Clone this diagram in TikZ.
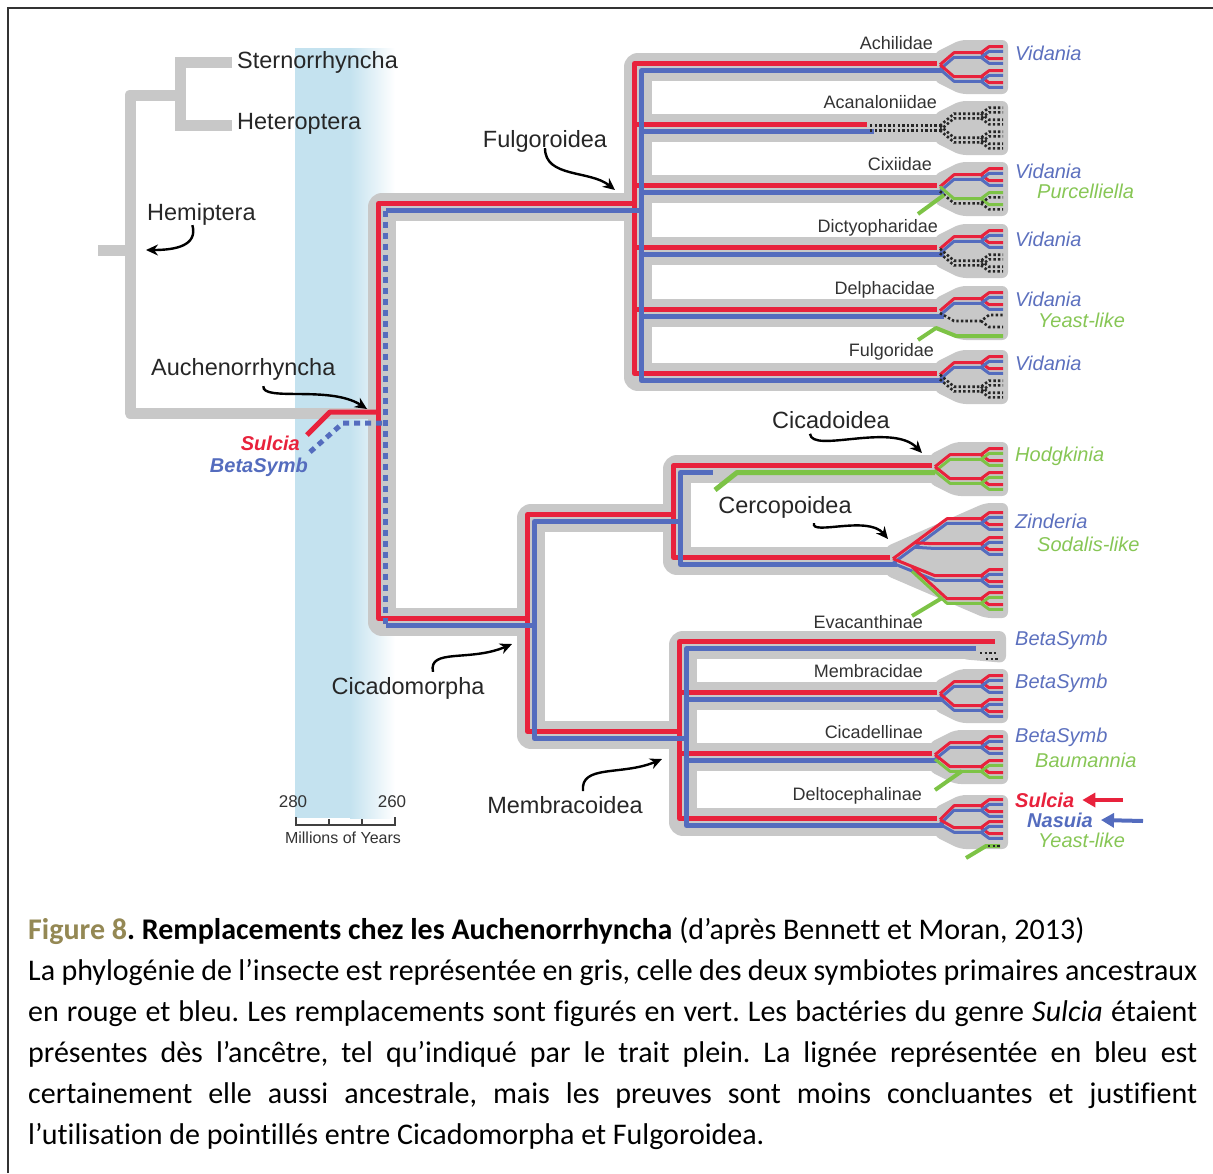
\documentclass[tikz,border=0pt]{standalone}
\usepackage{fontspec}
\setmainfont{Carlito}[Ligatures=NoCommon]
\setsansfont{Liberation Sans}
\usetikzlibrary{arrows.meta}
\frenchspacing

\definecolor{insect}{RGB}{200,200,200}
\definecolor{sred}{RGB}{232,34,60}
\definecolor{sblue}{RGB}{84,108,190}
\definecolor{sgreen}{RGB}{125,195,70}
\definecolor{tblue}{RGB}{92,112,190}
\definecolor{tgreen}{RGB}{135,198,85}
\definecolor{skyband}{RGB}{196,226,239}
\definecolor{figolive}{RGB}{148,136,84}

% grey fan at the end of a family band
\newcommand{\fan}[2]{\fill[insect, rounded corners=6pt] ({#1-6},{#2-14}) -- ({#1+20},{#2-27}) -- (1008,{#2-27}) -- (1008,{#2+27}) -- ({#1+20},{#2+27}) -- ({#1-6},{#2+14}) -- cycle;}
% one branch of a fan, ending in two tips
\newcommand{\fork}[5]{\draw[#1] (#2,#3) -- (#4,#5) -- (981,#5) -- (989,{#5-6}) -- (1003,{#5-6}) (981,#5) -- (989,{#5+6}) -- (1003,{#5+6});}
\newcommand{\pairfork}[6]{\fork{#1,yshift=2.3pt}{#3}{#4}{#5}{#6}\fork{#2,yshift=-2.3pt}{#3}{#4}{#5}{#6}}

\begin{document}
\begin{tikzpicture}[
        x=1pt, y=-1pt,
        band/.style={draw=insect, line width=28pt, line join=round},
        twig/.style={draw=insect, line width=11pt},
        rl/.style={draw=sred, line width=5pt, line join=round},
        bl/.style={draw=sblue, line width=5pt, line join=round},
        rf/.style={draw=sred, line width=3pt, line join=round},
        bf/.style={draw=sblue, line width=3pt, line join=round},
        gf/.style={draw=sgreen, line width=3pt, line join=round},
        df/.style={draw=black!85, line width=2.6pt, dash pattern=on 2.4pt off 2.2pt},
        gin/.style={draw=sgreen, line width=4pt, line join=round},
        lab/.style={font=\sffamily\fontsize{23.5}{26}\selectfont, text=black!85, inner sep=0pt},
        fam/.style={font=\sffamily\fontsize{18}{20}\selectfont, text=black!80, anchor=east, inner sep=0pt},
        sym/.style={font=\sffamily\itshape\fontsize{20}{22}\selectfont, anchor=west, inner sep=0pt},
        bsym/.style={sym, font=\sffamily\bfseries\itshape\fontsize{20}{22}\selectfont},
        swoop/.style={-{Stealth[length=12pt,width=11pt]}, line width=2.4pt, black}
    ]
    \useasboundingbox (0,0) rectangle (1213,1173);
    \draw[line width=2pt, black!80] (8,1173) -- (8,8) -- (1213,8);

    % time band
    \fill[skyband] (295,48) rectangle (350,818);
    \shade[left color=skyband, right color=white] (350,48) rectangle (395,818);

    % Hemiptera
    \draw[twig] (98,250) -- (130,250);
    \draw[twig, line join=round] (180,95) -- (130,95) -- (130,413) -- (380,413);
    \draw[twig] (232,62) -- (180,62) -- (180,125) -- (232,125);

    % insect bands
    \draw[band] (638,207) -- (382,207) -- (382,622) -- (531,622);
    \draw[band] (945,67) -- (638,67) -- (638,377) -- (945,377);
    \foreach \y in {128,189,251,313} \draw[band] (638,\y) -- (945,\y);
    \draw[band] (677,518) -- (531,518) -- (531,735) -- (683,735);
    \draw[band] (940,469) -- (677,469) -- (677,561) -- (895,561);
    \draw[band] (975,645) -- (683,645) -- (683,822) -- (945,822);
    \foreach \y in {696,757} \draw[band] (683,\y) -- (945,\y);

    \foreach \y in {67,128,189,251,313,377} \fan{940}{\y};
    \fan{935}{469}
    \fan{940}{696}
    \fan{935}{757}
    \fan{940}{822}
    \fill[insect, rounded corners=6pt] (885,547) -- (985,503) -- (1008,503) -- (1008,618) -- (985,618) -- (885,575) -- cycle;
    \fill[insect, rounded corners=7pt] (960,631) -- (1006,631) -- (1006,663) -- (960,659) -- cycle;

    % Sulcia
    \begin{scope}[shift={(-3.5,-3.5)}]
        \draw[rl] (638,207) -- (382,207) -- (382,622) -- (531,622);
        \draw[rl] (940,67) -- (638,67) -- (638,377) -- (940,377);
        \draw[rl] (638,128) -- (870,128);
        \foreach \y in {189,251,313} \draw[rl] (638,\y) -- (940,\y);
        \draw[rl] (677,518) -- (531,518) -- (531,735) -- (683,735);
        \draw[rl] (935,469) -- (677,469) -- (677,561) -- (893,561);
        \draw[rl] (998,645) -- (683,645) -- (683,822) -- (940,822);
        \draw[rl] (683,696) -- (940,696);
        \draw[rl] (683,757) -- (935,757);
    \end{scope}
    \draw[rl] (307,435) -- (330,412) -- (380,412);

    % BetaSymb
    \begin{scope}[shift={(3.5,3.5)}]
        \draw[bl] (638,207) -- (382,207);
        \draw[bl, dash pattern=on 6pt off 5pt] (382,207) -- (382,622);
        \draw[bl] (382,622) -- (531,622);
        \draw[bl] (940,67) -- (638,67) -- (638,377) -- (940,377);
        \draw[bl] (638,128) -- (870,128);
        \foreach \y in {189,251,313} \draw[bl] (638,\y) -- (940,\y);
        \draw[bl] (677,518) -- (531,518) -- (531,735) -- (683,735);
        \draw[bl] (709,469) -- (677,469) -- (677,561) -- (893,561);
        \draw[bl] (972,645) -- (683,645) -- (683,822) -- (940,822);
        \draw[bl] (683,696) -- (940,696);
        \draw[bl] (683,757) -- (935,757);
    \end{scope}
    \draw[bl, dash pattern=on 6pt off 5pt] (310,452) -- (343,423) -- (386,423);
    \draw[gin, line width=5pt] (715,490) -- (737,472.5) -- (935,472.5);

    % tips, Fulgoroidea
    \pairfork{rf}{bf}{940}{67}{954}{55}
    \pairfork{rf}{bf}{940}{67}{954}{79}
    \draw[df, yshift=2.3pt] (870,128) -- (940,128);
    \draw[df, yshift=-2.3pt] (870,128) -- (940,128);
    \pairfork{df}{df}{940}{128}{954}{116}
    \pairfork{df}{df}{940}{128}{954}{140}
    \pairfork{rf}{bf}{940}{189}{954}{177}
    \pairfork{gf}{df}{940}{189}{954}{201}
    \draw[gin] (918,214) -- (944,195);
    \pairfork{rf}{bf}{940}{251}{954}{239}
    \pairfork{df}{df}{940}{251}{954}{263}
    \pairfork{rf}{bf}{940}{313}{954}{301}
    \fork{df}{940}{313}{954}{321}
    \draw[gin] (918,340) -- (936,328) -- (956,336) -- (1003,336);
    \pairfork{rf}{bf}{940}{377}{954}{365}
    \pairfork{df}{df}{940}{377}{954}{389}

    % tips, Cicadomorpha
    \pairfork{rf}{gf}{935}{469}{950}{457}
    \pairfork{rf}{gf}{935}{469}{950}{481}
    \pairfork{rf}{bf}{893}{561}{947}{521}
    \pairfork{rf}{bf}{915}{545}{932}{546}
    \pairfork{rf}{bf}{893}{561}{935}{578}
    \pairfork{rf}{gf}{912}{569}{947}{601}
    \draw[gin] (912,616) -- (942,598);
    \draw[df] (980,653) -- (998,653);
    \draw[df] (986,659) -- (998,659);
    \pairfork{rf}{bf}{940}{696}{954}{684}
    \pairfork{rf}{bf}{940}{696}{954}{708}
    \pairfork{rf}{bf}{935}{757}{950}{745}
    \pairfork{rf}{gf}{935}{757}{950}{769}
    \draw[gin] (935,790) -- (962,771);
    \pairfork{rf}{bf}{940}{822}{954}{808}
    \pairfork{rf}{bf}{940}{822}{954}{830}
    \draw[gin] (966,858) -- (986,846) -- (1000,846);
    \draw[df] (988,846) -- (1000,846);

    % clade names
    \node[lab, anchor=west] (stern) at (237,62) {Sternorrhyncha};
    \node[lab, anchor=west] (hetero) at (237,124) {Heteroptera};
    \node[lab, anchor=west] (hemi) at (147,214) {Hemiptera};
    \node[lab, anchor=west] (auchen) at (151,369) {Auchenorrhyncha};
    \node[lab] (fulgo) at (545,141) {Fulgoroidea};
    \node[lab] (cicado) at (831,420) {Cicadoidea};
    \node[lab] (cerco) at (785,507) {Cercopoidea};
    \node[lab] (cicmo) at (408,688) {Cicadomorpha};
    \node[lab] (membr) at (565,805) {Membracoidea};

    \coordinate (hemiTip) at (146,250);
    \coordinate (fulgoTip) at (615,190);
    \coordinate (auchenTip) at (367,409);
    \coordinate (cicadoTip) at (922,453);
    \coordinate (cercoTip) at (888,539);
    \coordinate (cicmoTip) at (512,644);
    \coordinate (membrTip) at (662,759);
    \draw[swoop] ([xshift=-9pt]hemi.south) .. controls (198,246) and (175,250) .. (hemiTip);
    \draw[swoop] (fulgo.south) ++(0,-4) .. controls (545,178) and (590,170) .. (fulgoTip);
    \draw[swoop] ([xshift=20pt,yshift=-6pt]auchen.south) .. controls (262,402) and (330,385) .. (auchenTip);
    \draw[swoop] ([xshift=-21pt,yshift=-5pt]cicado.south) .. controls (812,454) and (892,422) .. (cicadoTip);
    \draw[swoop] ([xshift=29pt,yshift=-5pt]cerco.south) .. controls (810,536) and (868,515) .. (cercoTip);
    \draw[swoop] ([xshift=25pt,yshift=5pt]cicmo.north) .. controls (428,648) and (470,662) .. (cicmoTip);
    \draw[swoop] ([xshift=18pt,yshift=5pt]membr.north) .. controls (580,764) and (622,776) .. (membrTip);

    % families
    \node[fam] (achil) at (933,43) {Achilidae};
    \node[fam] (acana) at (937,102) {Acanaloniidae};
    \node[fam] (cixi) at (932,164) {Cixiidae};
    \node[fam] (dicty) at (938,228) {Dictyopharidae};
    \node[fam] (delph) at (935,290) {Delphacidae};
    \node[fam] (fulgd) at (934,352) {Fulgoridae};
    \node[fam] (evaca) at (923,622) {Evacanthinae};
    \node[fam] (membd) at (923,671) {Membracidae};
    \node[fam] (cicad) at (923,732) {Cicadellinae};
    \node[fam] (delto) at (922,796) {Deltocephalinae};

    % symbionts
    \node[sym, text=tblue] (vid1) at (1015,53) {Vidania};
    \node[sym, text=tblue] (vid2) at (1015,171) {Vidania};
    \node[sym, text=tgreen] (purc) at (1037,191) {Purcelliella};
    \node[sym, text=tblue] (vid3) at (1015,239) {Vidania};
    \node[sym, text=tblue] (vid4) at (1015,299) {Vidania};
    \node[sym, text=tgreen] (yeast1) at (1038,320) {Yeast-like};
    \node[sym, text=tblue] (vid5) at (1015,363) {Vidania};
    \node[sym, text=tgreen] (hodg) at (1015,456) {Hodgkinia};
    \node[sym, text=tblue] (zind) at (1015,521) {Zinderia};
    \node[sym, text=tgreen] (soda) at (1037,544) {Sodalis-like};
    \node[sym, text=tblue] (beta1) at (1015,640) {BetaSymb};
    \node[sym, text=tblue] (beta2) at (1015,683) {BetaSymb};
    \node[sym, text=tblue] (beta3) at (1015,737) {BetaSymb};
    \node[sym, text=tgreen] (baum) at (1035,760) {Baumannia};
    \node[bsym, text=sred] (sulR) at (1015,800) {Sulcia};
    \node[bsym, text=sblue] (nasu) at (1027,820) {Nasuia};
    \node[sym, text=tgreen] (yeast2) at (1038,840) {Yeast-like};
    \coordinate (sulTail) at (1123,800);
    \coordinate (nasTail) at (1143,821);
    \draw[-{Triangle[length=13pt,width=14pt]}, draw=sred, fill=sred, line width=4pt] (sulTail) -- ([xshift=8pt]sulR.east);
    \draw[-{Triangle[length=13pt,width=14pt]}, draw=sblue, fill=sblue, line width=4pt] (nasTail) -- ([xshift=8pt]nasu.east);

    \node[bsym, text=sred, anchor=east] (sulL) at (300,443) {Sulcia};
    \node[bsym, text=sblue, anchor=east] (betaL) at (308,467) {BetaSymb};

    % time scale
    \node[font=\sffamily\fontsize{17}{19}\selectfont, text=black!80] (s280) at (293,802) {280};
    \node[font=\sffamily\fontsize{17}{19}\selectfont, text=black!80] (s260) at (392,802) {260};
    \draw[line width=2pt, black!75] (296,817) -- (296,825) -- (395,825) -- (395,817);
    \draw[line width=2pt, black!75] (329,825) -- (329,819) (362,825) -- (362,819);
    \node[font=\sffamily\fontsize{16}{18}\selectfont, text=black!80] (myr) at (343,838) {Millions of Years};

    % caption
    \node[anchor=north west, inner sep=0pt, text width=1169pt, align=justify,
          font=\fontsize{30}{41}\selectfont] (caption) at (28,917)
        {\hyphenpenalty=10000 {\color{figolive}\textbf{Figure 8}}\textbf{. Remplacements chez les Auchenorrhyncha} (d’après Bennett et Moran, 2013)\newline
        La phylogénie de l’insecte est représentée en gris, celle des deux symbiotes primaires ancestraux\linebreak
        en rouge et bleu. Les remplacements sont figurés en vert. Les bactéries du genre \textit{Sulcia} étaient\linebreak
        présentes dès l’ancêtre, tel qu’indiqué par le trait plein. La lignée représentée en bleu est\linebreak
        certainement elle aussi ancestrale, mais les preuves sont moins concluantes et justifient\linebreak
        l’utilisation de pointillés entre Cicadomorpha et Fulgoroidea.};
\end{tikzpicture}
\end{document}
